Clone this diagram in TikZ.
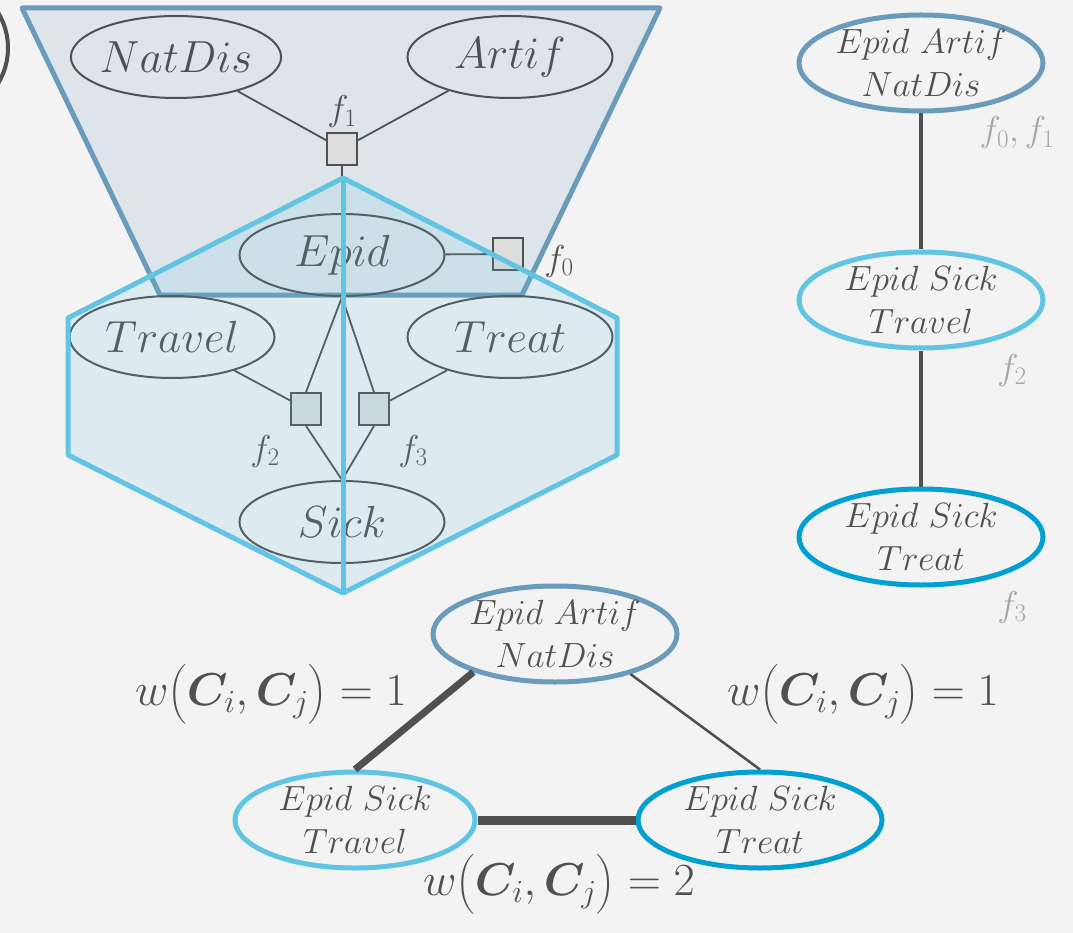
\RequirePackage{fix-cm}
\documentclass[tikz,border=0pt]{standalone}
\usepackage{amsmath}
\usepackage{bm}
\usetikzlibrary{shapes.geometric, positioning}
\definecolor{bgpaper}{HTML}{F3F3F3}
\definecolor{steelblue}{HTML}{6A9BBB}
\definecolor{skyblue}{HTML}{62C4E3}
\definecolor{deepblue}{HTML}{00A0D2}
\definecolor{inkgray}{HTML}{505050}
\definecolor{factorgray}{HTML}{DCDCDC}
\definecolor{labelgray}{HTML}{A6A6A6}

\begin{document}
\begin{tikzpicture}[
    x=1pt, y=-1pt,
    var/.style={ellipse, draw=inkgray, line width=2pt, minimum width=205pt, minimum height=82pt, inner sep=-2pt, text=inkgray, font=\fontsize{45}{50}\selectfont},
    factor/.style={rectangle, draw=inkgray, line width=1.8pt, fill=factorgray, minimum width=30pt, minimum height=32pt, inner sep=0pt},
    flabel/.style={text=inkgray, font=\fontsize{36}{40}\selectfont, inner sep=0pt},
    clique/.style={ellipse, draw=#1, line width=5pt, minimum width=244pt, minimum height=96pt, inner sep=-12pt, align=center, text=inkgray, font=\fontsize{35}{43}\selectfont},
    link/.style={draw=inkgray, line width=1.8pt},
    tree/.style={draw=inkgray, line width=3.5pt},
    weight/.style={text=inkgray, font=\fontsize{46}{52}\selectfont, inner sep=0pt},
    region/.style={line width=5pt, line join=round, draw=#1, fill=#1, fill opacity=0.15}
]

\path[use as bounding box, fill=bgpaper] (0,0) rectangle (1073,933);

% cut-off circle at the top left corner
\begin{scope}
  \clip (0,0) rectangle (1073,933);
  \draw[inkgray, line width=4pt] (-60,48) circle[radius=68];
\end{scope}

% ==================== FACTOR GRAPH ====================
\path[region=steelblue] (22,8) -- (660,8) -- (522,295) -- (160,295) -- cycle;

\node[var] (natdis) at (176,57) {$NatDis$};
\node[var] (artif) at (510,57) {$Artif$};
\node[factor] (f1) at (342,149) {};
\node[flabel] (f1lbl) at (342,112) {$f_1$};

\node[var] (epid) at (342,255) {$Epid$};
\node[factor] (f0) at (508,254) {};
\node[flabel] (f0lbl) at (559,261) {$f_0$};

\node[var] (travel) at (172,337) {$Travel$};
\node[var] (treat) at (510,337) {$Treat$};
\node[factor] (f2) at (306,409) {};
\node[factor] (f3) at (374,409) {};
\node[flabel] (f2lbl) at (265,451) {$f_2$};
\node[flabel] (f3lbl) at (413,451) {$f_3$};
\node[var] (sick) at (342,522) {$Sick$};

\draw[link] (natdis) -- (f1);
\draw[link] (artif) -- (f1);
\draw[link] (f1) -- (epid);
\draw[link] (epid) -- (f0);
\draw[link] (epid.south) -- (f2.north);
\draw[link] (epid.south) -- (f3.north);
\draw[link] (travel) -- (f2);
\draw[link] (treat) -- (f3);
\draw[link] (f2.south) -- (sick.north);
\draw[link] (f3.south) -- (sick.north);

% second cluster drawn over the graph
\path[region=skyblue] (343,178) -- (617,318) -- (617,455) -- (343,593) -- (68,455) -- (68,318) -- cycle;
\draw[skyblue, line width=5pt] (343,178) -- (343,595);

% ==================== CLUSTER TREE (RIGHT) ====================
\node[clique=steelblue] (r1) at (921,63) {$Epid\ Artif$\\$NatDis$};
\node[clique=skyblue] (r2) at (921,300) {$Epid\ Sick$\\$Travel$};
\node[clique=deepblue] (r3) at (921,537) {$Epid\ Sick$\\$Treat$};

\draw[tree] (r1) -- (r2);
\draw[tree] (r2) -- (r3);

\node[flabel, text=labelgray] (r1lbl) at (1017,133) {$f_0, f_1$};
\node[flabel, text=labelgray] (r2lbl) at (1012,370) {$f_2$};
\node[flabel, text=labelgray] (r3lbl) at (1012,607) {$f_3$};

% ==================== WEIGHTED CLUSTER GRAPH ====================
\node[clique=steelblue] (cA) at (555,634) {$Epid\ Artif$\\$NatDis$};
\node[clique=skyblue, minimum width=240pt] (cB) at (355,820) {$Epid\ Sick$\\$Travel$};
\node[clique=deepblue] (cC) at (760,820) {$Epid\ Sick$\\$Treat$};

\draw[inkgray, line width=7pt] (cA.205) -- (cB.north);
\draw[inkgray, line width=2.5pt] (cA.332) -- (cC.north);
\draw[inkgray, line width=9pt] (cB.east) -- (cC.west);

\node[weight] (wAB) at (271,694) {$w\bigl(\bm{C}_i,\bm{C}_j\bigr)=1$};
\node[weight] (wAC) at (863,694) {$w\bigl(\bm{C}_i,\bm{C}_j\bigr)=1$};
\node[weight] (wBC) at (559,884) {$w\bigl(\bm{C}_i,\bm{C}_j\bigr)=2$};

\end{tikzpicture}
\end{document}
